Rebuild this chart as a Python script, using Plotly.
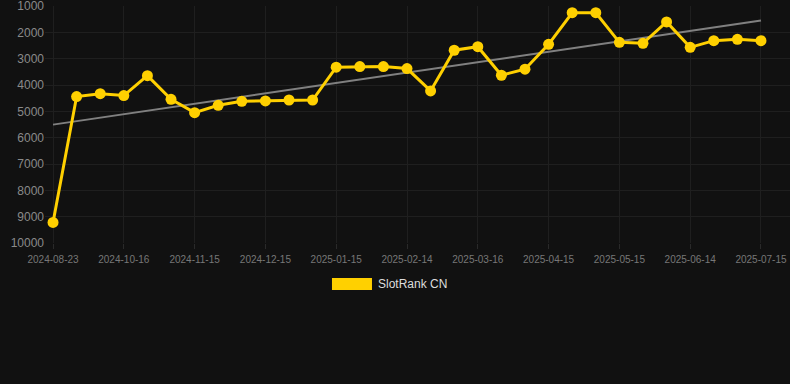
import numpy as np
import plotly.graph_objects as go

dates = [
    "2024-08-23", "2024-09-26", "2024-10-06", "2024-10-16", "2024-10-26", "2024-11-05",
    "2024-11-15", "2024-11-25", "2024-12-05", "2024-12-15", "2024-12-25", "2025-01-05",
    "2025-01-15", "2025-01-25", "2025-02-04", "2025-02-14", "2025-02-24", "2025-03-06",
    "2025-03-16", "2025-03-26", "2025-04-05", "2025-04-15", "2025-04-25", "2025-05-05",
    "2025-05-15", "2025-05-25", "2025-06-04", "2025-06-14", "2025-06-24", "2025-07-05",
    "2025-07-15",
]
rank = [
    9220, 4440, 4330, 4400, 3645, 4545, 5050, 4770, 4620, 4605, 4570,
    4570, 3325, 3300, 3300, 3375, 4225, 2680, 2545, 3630, 3400, 2455,
    1255, 1255, 2380, 2415, 1605, 2570, 2315, 2265, 2315,
]
tick_dates = dates[::3]
y_ticks = [1000, 2000, 3000, 4000, 5000, 6000, 7000, 8000, 9000, 10000]
series_name = "SlotRank CN"

GOLD = "#FFD000"
BG = "#111111"
GRID = "#1f1f1f"
FONT = "Liberation Sans, Arial, sans-serif"

idx = np.arange(len(rank))
slope, intercept = np.polyfit(idx, rank, 1)
trend_y = [intercept, intercept + slope * idx[-1]]

fig = go.Figure()
fig.add_trace(go.Scatter(
    x=[dates[0], dates[-1]], y=trend_y, mode="lines",
    line=dict(color="#808080", width=2), showlegend=False, hoverinfo="skip",
))
fig.add_trace(go.Scatter(
    x=dates, y=rank, mode="lines+markers", name=series_name,
    line=dict(color=GOLD, width=3),
    marker=dict(color=GOLD, size=11),
    showlegend=False,
))

# legend (manual, wide swatch)
fig.add_shape(type="rect", xref="paper", yref="paper",
              x0=0.3852, x1=0.4389, y0=-0.1475, y1=-0.1980,
              fillcolor=GOLD, line=dict(width=0))
fig.add_annotation(text=series_name, xref="paper", yref="paper",
                   x=0.4440, y=-0.1728, xanchor="left", yanchor="middle",
                   showarrow=False, font=dict(family=FONT, size=12, color="#dddddd"))

fig.update_layout(
    width=790, height=384,
    margin=dict(l=45, r=0, t=6, b=141),
    paper_bgcolor=BG, plot_bgcolor=BG,
    font=dict(family=FONT),
    showlegend=False,
)
fig.update_xaxes(
    type="category", categoryorder="array", categoryarray=dates,
    range=[-0.34, 31.23],
    tickmode="array", tickvals=tick_dates, ticktext=tick_dates,
    showgrid=True, gridcolor=GRID, gridwidth=1,
    ticks="outside", ticklen=5, tickcolor="#2a2a2a",
    ticklabelstandoff=2,
    tickfont=dict(size=10, color="#777777", family=FONT),
    zeroline=False, showline=False,
)
fig.update_yaxes(
    range=[10000.5, 999.5], tickmode="array", tickvals=y_ticks,
    ticktext=[str(v) for v in y_ticks],
    showgrid=True, gridcolor=GRID, gridwidth=1,
    tickfont=dict(size=12, color="#8a8a8a", family=FONT),
    ticklabeloverflow="allow",
    zeroline=False, showline=False,
)
fig.write_html(
    "out.html",
    config={"displayModeBar": False},
    post_script="document.body.style.margin='0px';document.body.style.background='#111111';",
)
